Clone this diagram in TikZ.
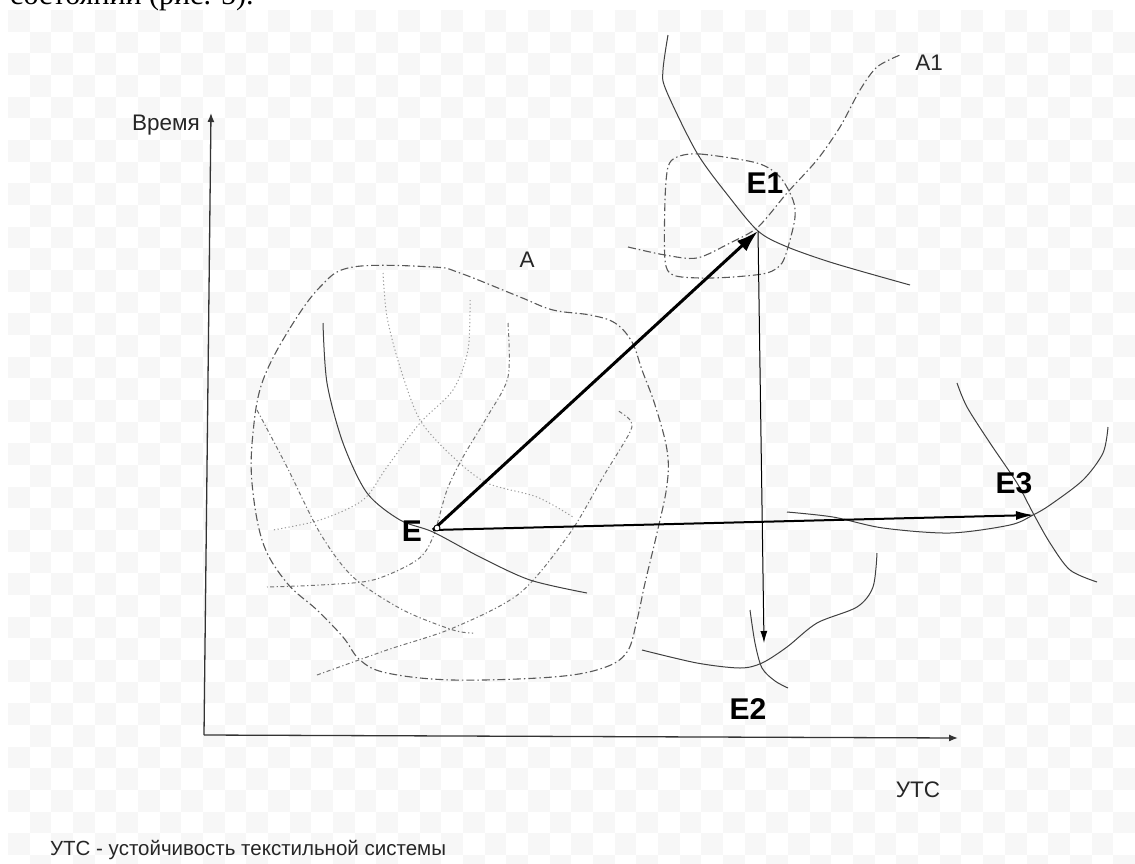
\documentclass[tikz,border=0pt]{standalone}
\usepackage{fontspec}
\setmainfont{Liberation Sans}
\newfontfamily\serifface{Liberation Serif}
\usetikzlibrary{arrows.meta}
\begin{document}
\begin{tikzpicture}[x=1pt,y=-1pt,
  lbl/.style={font=\fontsize{22.5}{26}\selectfont, text=black!85, inner sep=0},
  note/.style={font=\fontsize{20.5}{24}\selectfont, text=black!85, inner sep=0},
  elbl/.style={font=\fontsize{30}{34}\selectfont\bfseries, inner sep=0},
  axis/.style={line width=1.3pt, black!80, -{Latex[length=9pt,width=7pt]}},
  curve/.style={line width=1pt, black!75},
  region/.style={line width=1.1pt, black!65, dash pattern=on 8pt off 3pt on 1.5pt off 3pt},
  fine/.style={line width=1pt, black!40, dash pattern=on 1.2pt off 2.5pt},
  fdash/.style={line width=1pt, black!55, dash pattern=on 4pt off 2.5pt on 1.2pt off 2.5pt},
]
\useasboundingbox (0,0) rectangle (1135,863);
\fill[white] (0,0) rectangle (1135,863);
\begin{scope}
\clip (8,10) rectangle (1135,863);
\foreach \i in {0,2,...,52} {\foreach \j in {0,2,...,40} {
  \fill[black!3] ({8+\i*21.67},{10+\j*21.67}) rectangle ++(21.67,21.67);
  \fill[black!3] ({8+(\i+1)*21.67},{10+(\j+1)*21.67}) rectangle ++(21.67,21.67);
}}
\end{scope}
\node[anchor=base west, font=\serifface\fontsize{30}{34}\selectfont, inner sep=0] (toptext) at (10,4) {состояний (рис. 5).};

% axes
\coordinate (O) at (204,735);
\coordinate (Ytop) at (211,113);
\coordinate (Xend) at (958,738);
\draw[axis] (O) -- (Ytop);
\draw[axis] (O) -- (Xend);
\node[lbl, anchor=base east] (ylabel) at (200,130) {Время};
\node[lbl] (xlabel) at (918,790) {УТС};
\node[note, anchor=base west] (notelbl) at (50,855) {УТС - устойчивость текстильной системы};

% region A
\draw[region] plot[smooth cycle, tension=0.6] coordinates {(353,267) (433,267) (460,273) (520,297) (553,310) (590,315) (615,323) (632,342) (642,370) (655,405) (667,450) (667,485) (657,533) (645,583) (637,620) (627,652) (603,668) (553,677) (453,680) (387,673) (360,660) (343,637) (317,610) (287,583) (263,543) (252,483) (253,433) (262,383) (287,333) (320,287)};
\draw[fine] plot[smooth] coordinates {(383,273) (387,317) (400,367) (420,420) (453,457) (487,483) (537,497) (573,517)};
\draw[fine] plot[smooth] coordinates {(470,300) (468,350) (453,390) (420,423) (387,467) (363,500) (320,520) (273,530)};
\draw[fdash] plot[smooth] coordinates {(508,323) (508,377) (487,417) (463,457) (447,490) (433,537) (417,560) (373,580) (320,585) (267,587)};
\draw[fdash] plot[smooth] coordinates {(257,410) (287,467) (320,533) (353,577) (403,610) (453,630) (473,633)};
\draw[fdash] plot[smooth] coordinates {(317,675) (387,650) (453,628) (520,593) (570,533) (603,477) (630,432) (630,420) (617,410)};
\draw[curve] plot[smooth] coordinates {(323,323) (327,383) (343,443) (367,493) (400,520) (433,532) (480,557) (530,580) (587,593)};

% E1 region
\draw[curve] plot[smooth] coordinates {(668,35) (663,70) (666,90) (697,153) (730,198) (758,231) (785,246) (833,263) (910,285)};
\draw[region] plot[smooth] coordinates {(628,247) (665,255) (697,258) (730,243) (758,227) (787,193) (817,160) (840,127) (860,90) (877,67) (900,55)};
\draw[region] plot[smooth cycle] coordinates {(677,157) (700,154) (757,163) (780,177) (793,200) (795,217) (790,240) (782,263) (767,273) (733,277) (700,278) (673,275) (665,260) (665,200) (668,167)};

% E2 region
\draw[curve] plot[smooth] coordinates {(642,650) (697,663) (740,668) (762,663) (787,647) (817,623) (857,607) (873,587) (877,553)};
\draw[curve] plot[smooth] coordinates {(750,610) (755,643) (762,668) (775,681) (788,688)};

% E3 region
\draw[curve] plot[smooth] coordinates {(957,383) (967,407) (990,443) (1017,483) (1033,513) (1050,543) (1070,570) (1097,582)};
\draw[curve] plot[smooth] coordinates {(1108,427) (1103,453) (1083,480) (1050,505) (1033,515) (1010,525) (950,533) (883,528) (833,517) (787,512)};

% points and arrows
\coordinate (E) at (433,530);
\coordinate (E1) at (758,231);
\coordinate (E2) at (764,643);
\coordinate (E3) at (1034,515);
\draw[line width=3pt, -{Latex[length=22pt,width=14pt]}] (E) -- (E1);
\draw[line width=2pt, -{Latex[length=18pt,width=9pt]}] (E) -- (E3);
\draw[line width=1pt, -{Latex[length=12pt,width=7pt]}] (E1) -- (E2);
\draw[line width=0.9pt, fill=white] (437,528) circle (3);

\node[elbl] (Elbl) at (412,531) {E};
\node[elbl] (E1lbl) at (765,183) {E1};
\node[elbl] (E2lbl) at (748,709) {E2};
\node[elbl] (E3lbl) at (1014,483) {E3};
\node[lbl] (Albl) at (527,260) {A};
\node[lbl] (A1lbl) at (929,63) {A1};
\end{tikzpicture}
\end{document}
